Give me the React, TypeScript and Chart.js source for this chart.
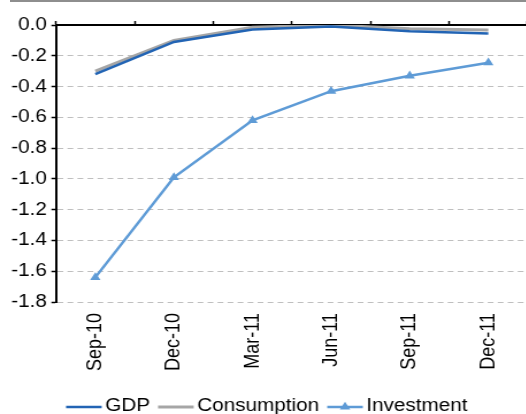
import React, { useEffect, useRef } from "react";
import { Chart, registerables } from "chart.js";
import { drawPoint } from "chart.js/helpers";

Chart.register(...registerables);

const categories = ["Sep-10", "Dec-10", "Mar-11", "Jun-11", "Sep-11", "Dec-11"];
const gdp = [-0.32, -0.11, -0.03, -0.01, -0.04, -0.055];
const consumption = [-0.3, -0.1, -0.015, 0.0, -0.025, -0.033];
const investment = [-1.64, -0.99, -0.62, -0.43, -0.33, -0.245];
const yTicks = [0.0, -0.2, -0.4, -0.6, -0.8, -1.0, -1.2, -1.4, -1.6, -1.8];

const FONT = "'Liberation Sans', Arial, sans-serif";
const STRETCH = 1.15;
const CANVAS_W = 464;
const CANVAS_H = 420;

// Line-sample legend drawn under the category labels
const lineLegend = {
  id: "lineLegend",
  afterDraw(chart: any) {
    const { ctx } = chart;
    const lineLen = 31;
    const gap = 3;
    const spacing = 7;
    const y = chart.chartArea.bottom + 105;
    ctx.save();
    ctx.font = `18px ${FONT}`;
    const items = chart.data.datasets.map((ds: any) => ({ ds, tw: ctx.measureText(ds.label).width }));
    const total =
      items.reduce((s: number, it: any) => s + lineLen + gap + it.tw, 0) + spacing * (items.length - 1);
    let x = chart.width / 2 - total / 2;
    for (const it of items) {
      const ds = it.ds;
      ctx.strokeStyle = ds.borderColor;
      ctx.lineWidth = ds.borderWidth;
      ctx.beginPath();
      ctx.moveTo(x, y);
      ctx.lineTo(x + lineLen, y);
      ctx.stroke();
      if (ds.pointRadius > 0) {
        ctx.fillStyle = ds.pointBackgroundColor;
        drawPoint(ctx, { pointStyle: ds.pointStyle, radius: ds.pointRadius, rotation: 0, borderWidth: 0 }, x + lineLen / 2, y);
      }
      ctx.fillStyle = "#000";
      ctx.textBaseline = "alphabetic";
      ctx.textAlign = "left";
      ctx.fillText(ds.label, x + lineLen + gap, y + 4);
      x += lineLen + gap + it.tw + spacing;
    }
    ctx.restore();
  },
};

export default function App() {
  const ref = useRef<HTMLCanvasElement>(null);

  useEffect(() => {
    const canvas = ref.current;
    if (!canvas) return;
    const chart = new Chart(canvas, {
      type: "line",
      data: {
        labels: categories,
        datasets: [
          {
            label: "GDP",
            data: gdp,
            borderColor: "#2264B4",
            borderWidth: 2.5,
            pointRadius: 0,
            tension: 0,
          },
          {
            label: "Consumption",
            data: consumption,
            borderColor: "#A6A6A6",
            borderWidth: 3,
            pointRadius: 0,
            tension: 0,
          },
          {
            label: "Investment",
            data: investment,
            borderColor: "#5E9BD6",
            backgroundColor: "#5E9BD6",
            borderWidth: 2.5,
            pointStyle: "triangle",
            pointRadius: 5.2,
            pointBackgroundColor: "#5E9BD6",
            pointBorderWidth: 0,
            tension: 0,
          },
        ],
      },
      options: {
        animation: false,
        responsive: false,
        devicePixelRatio: 1,
        layout: { padding: { top: 21, bottom: 48, left: 0, right: 0 } },
        plugins: {
          legend: { display: false },
          tooltip: { enabled: false },
        },
        scales: {
          x: {
            type: "category",
            position: "bottom",
            offset: true,
            afterFit(scale: any) {
              scale.height = 70;
            },
            grid: { display: false, drawTicks: false },
            border: { display: false },
            ticks: {
              minRotation: 90,
              maxRotation: 90,
              padding: 11,
              color: "#000",
              font: { family: FONT, size: 18 },
            },
          },
          x2: {
            type: "category",
            position: "top",
            offset: true,
            grid: {
              offset: true,
              drawOnChartArea: false,
              drawTicks: true,
              tickLength: 4,
              tickColor: "#000",
              tickWidth: 1.5,
            },
            border: { display: true, color: "#000", width: 2 },
            ticks: { display: false },
          },
          y: {
            min: -1.8,
            max: 0,
            afterBuildTicks(scale: any) {
              scale.ticks = yTicks.map((v) => ({ value: v }));
            },
            afterFit(scale: any) {
              scale.width = 48.7;
            },
            grid: {
              color: "#BFBFBF",
              lineWidth: 1,
              drawTicks: true,
              tickLength: 4,
              tickColor: "#000",
              tickWidth: 1.5,
            },
            border: { display: true, color: "#000", width: 2, dash: [5, 3.7] },
            ticks: {
              padding: 4,
              color: "#000",
              font: { family: FONT, size: 18 },
              callback: (v: any) => Number(v).toFixed(1),
            },
          },
        },
      },
      plugins: [lineLegend],
    });
    return () => chart.destroy();
  }, []);

  return (
    <div
      style={{
        position: "fixed",
        left: 0,
        top: 0,
        width: 526,
        height: 414,
        overflow: "hidden",
        background: "#fff",
      }}
    >
      <div style={{ position: "absolute", left: 10, right: 0, top: 0, height: 2, background: "#8E8E8E" }} />
      <div
        style={{
          position: "absolute",
          left: 0,
          top: 0,
          width: CANVAS_W,
          height: CANVAS_H,
          transform: `scaleX(${STRETCH})`,
          transformOrigin: "0 0",
        }}
      >
        <canvas ref={ref} width={CANVAS_W} height={CANVAS_H} style={{ display: "block" }} />
      </div>
    </div>
  );
}
